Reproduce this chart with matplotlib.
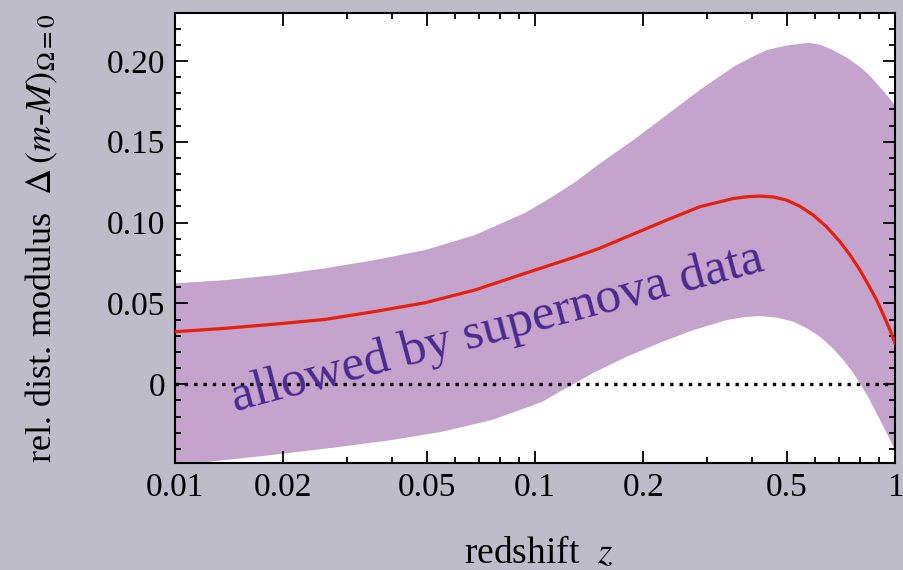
import matplotlib
matplotlib.use("Agg")
import matplotlib.pyplot as plt
from matplotlib.ticker import FixedLocator, MultipleLocator, NullFormatter

plt.rcParams['font.family'] = ['Liberation Serif', 'DejaVu Serif']
plt.rcParams['mathtext.fontset'] = 'stix'

# best-fit relative distance modulus (red line)
z_model = [0.0100, 0.01377, 0.01896, 0.0261, 0.0359, 0.0495, 0.0681, 0.0938, 0.1292,
           0.1516, 0.1875, 0.232, 0.287, 0.356, 0.39, 0.4217, 0.46, 0.500, 0.545, 0.593,
           0.645, 0.7035, 0.75, 0.7993, 0.845, 0.889, 0.93, 0.9686, 1.0]
model = [0.0325, 0.0346, 0.0372, 0.0401, 0.0450, 0.0504, 0.0583, 0.0686, 0.0787,
         0.0842, 0.0929, 0.1015, 0.1098, 0.1149, 0.1160, 0.1164, 0.1158, 0.1139, 0.1100,
         0.1046, 0.0975, 0.0881, 0.0800, 0.0706, 0.0612, 0.0521, 0.0426, 0.0335, 0.0255]

# upper edge of allowed band
z_upper = [0.0100, 0.01377, 0.01896, 0.0261, 0.0359, 0.0495, 0.0681, 0.0938, 0.1100,
           0.1292, 0.1516, 0.1875, 0.232, 0.287, 0.356, 0.40, 0.441, 0.50, 0.5735, 0.62,
           0.672, 0.735, 0.799, 0.845, 0.889, 0.94, 0.990, 1.0]
upper = [0.0624, 0.0644, 0.0675, 0.0717, 0.0768, 0.0830, 0.0923, 0.1060, 0.1150,
         0.1250, 0.1366, 0.1510, 0.1665, 0.1820, 0.1963, 0.2023, 0.2067, 0.2095, 0.2112,
         0.2100, 0.2067, 0.2020, 0.1963, 0.1915, 0.1861, 0.1800, 0.1737, 0.1720]

# lower edge of allowed band
z_lower = [0.0100, 0.0153, 0.0202, 0.0290, 0.0400, 0.0551, 0.0759, 0.1045, 0.1173,
           0.1452, 0.1797, 0.2225, 0.2754, 0.3406, 0.38, 0.4217, 0.47, 0.522, 0.57,
           0.619, 0.67, 0.7186, 0.76, 0.7993, 0.845, 0.889, 0.94, 0.990, 1.0]
lower = [-0.0500, -0.0458, -0.0428, -0.0386, -0.0345, -0.0294, -0.0221, -0.0110, -0.0045,
         0.0070, 0.0170, 0.0257, 0.0335, 0.0397, 0.0415, 0.0422, 0.0412, 0.0387, 0.0345,
         0.0294, 0.0225, 0.0150, 0.0080, 0.0005, -0.0085, -0.0180, -0.0285, -0.0386, -0.0400]

# band polygon: lower edge left->right, upper edge right->left
band_x = z_lower + z_upper[::-1]
band_y = lower + upper[::-1]

xticks = [0.01, 0.02, 0.05, 0.1, 0.2, 0.5, 1]
xticklabels = ["0.01", "0.02", "0.05", "0.1", "0.2", "0.5", "1"]
xminor = [0.03, 0.04, 0.06, 0.07, 0.08, 0.09, 0.3, 0.4, 0.6, 0.7, 0.8, 0.9]
yticks = [0, 0.05, 0.10, 0.15, 0.20]
yticklabels = ["0", "0.05", "0.10", "0.15", "0.20"]

bg = '#bfbcc9'
band_color = '#c4a3cd'
fig = plt.figure(figsize=(9.04, 5.70), dpi=100, facecolor=bg)
ax = fig.add_axes([175/904, (570-462.7)/570, 720/904, 449.7/570])
ax.set_facecolor('white')

ax.fill(band_x, band_y, color=band_color, linewidth=0, zorder=1)
ax.axhline(0, color='black', lw=2.4, linestyle=(0, (1, 1.8)), dash_capstyle='butt', zorder=2)
ax.plot(z_model, model, color='#e5200c', lw=2.3, zorder=3, solid_joinstyle='round')

ax.set_xscale('log')
ax.set_xlim(0.01, 1.0)
ax.set_ylim(-0.0485, 0.2296)
ax.xaxis.set_major_locator(FixedLocator(xticks))
ax.set_xticklabels(xticklabels)
ax.xaxis.set_minor_locator(FixedLocator(xminor))
ax.xaxis.set_minor_formatter(NullFormatter())
ax.yaxis.set_major_locator(FixedLocator(yticks))
ax.set_yticklabels(yticklabels)
ax.yaxis.set_minor_locator(MultipleLocator(0.01))

ax.tick_params(which='both', direction='in', top=True, right=True, width=1.3,
               labelsize=24, colors='black')
ax.tick_params(which='major', length=9, pad=7)
ax.tick_params(which='minor', length=4.5)
for s in ax.spines.values():
    s.set_linewidth(1.5)

ax.text(0.0833, 0.1134, "allowed by supernova data", transform=ax.transAxes,
        rotation=14.9, rotation_mode='anchor', ha='left', va='baseline',
        fontsize=37, color='#4a2a8e', zorder=4)

ax.set_xlabel(r"redshift  $z$", fontsize=27)
ax.xaxis.set_label_coords(0.505, -0.163)
ax.set_ylabel(r"rel. dist. modulus  $\Delta\,(m$-$M)_{\Omega=0}$", fontsize=26)
ax.yaxis.set_label_coords(-0.160, 0.50)

fig.savefig("out.png", dpi=100, facecolor=bg)
